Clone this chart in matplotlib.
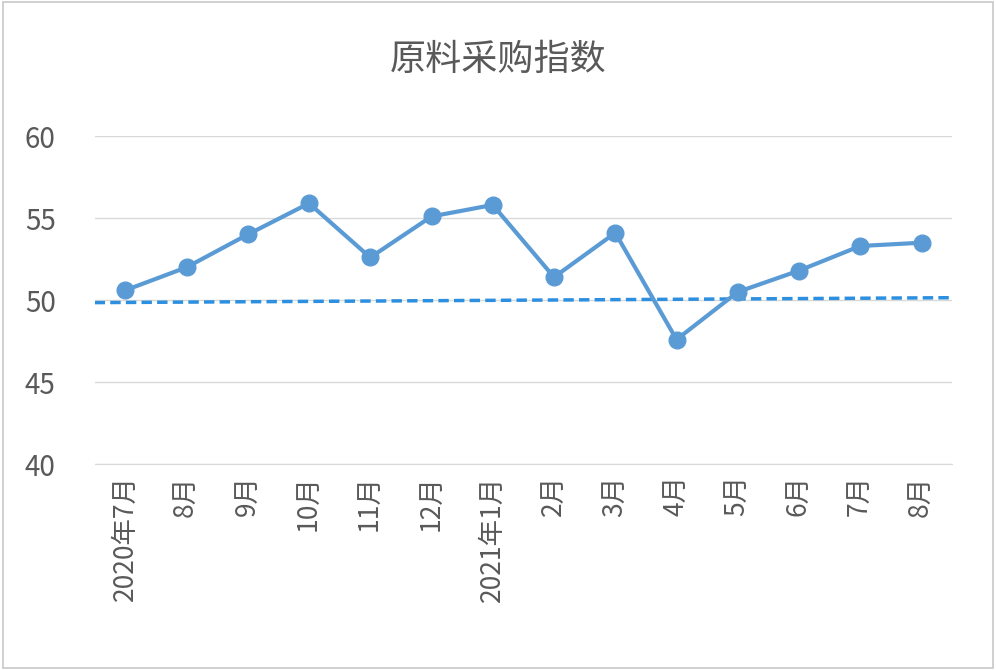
import matplotlib
matplotlib.use("Agg")
import matplotlib.pyplot as plt
from matplotlib.patches import Rectangle

plt.rcParams['font.family'] = ['Noto Sans CJK SC', 'DejaVu Sans']

categories = ["2020年7月", "8月", "9月", "10月", "11月", "12月", "2021年1月",
              "2月", "3月", "4月", "5月", "6月", "7月", "8月"]
values = [50.6, 52.0, 54.0, 55.9, 52.6, 55.1, 55.8, 51.4, 54.1, 47.6, 50.5, 51.8, 53.3, 53.5]
ref_x = [-0.5, 13.5]
ref_y = [49.85, 50.15]
yticks = [40, 45, 50, 55, 60]

fig = plt.figure(figsize=(9.96, 6.7), dpi=100)
fig.patches.append(Rectangle((0.003, 0.003), 0.994, 0.994, transform=fig.transFigure,
                             fill=False, edgecolor="#c8c8c8", linewidth=1.2))
ax = fig.add_axes([0.095, 0.307, 0.861, 0.49])
x = list(range(len(categories)))
ax.plot(ref_x, ref_y, linestyle=(0, (3, 1.5)), color="#2D8FE0", linewidth=2.5, zorder=2)
ax.plot(x, values, color="#5B9BD5", linewidth=3, marker="o", markersize=12, zorder=3)
ax.set_xlim(-0.5, 13.5)
ax.set_ylim(40, 60)
ax.set_yticks(yticks)
ax.set_xticks(x)
ax.set_xticklabels(categories, rotation=90, fontsize=19, color="#595959")
ax.tick_params(axis="y", labelsize=20, labelcolor="#595959", length=0, pad=28)
ax.tick_params(axis="x", length=0, pad=8)
ax.grid(axis="y", color="#d9d9d9", linewidth=1)
for s in ["top", "right", "left"]:
    ax.spines[s].set_visible(False)
ax.spines["bottom"].set_color("#d9d9d9")
ax.set_axisbelow(True)
fig.text(0.5, 0.91, "原料采购指数", ha="center", va="center", fontsize=26, color="#595959")
fig.savefig("out.png", dpi=100)
